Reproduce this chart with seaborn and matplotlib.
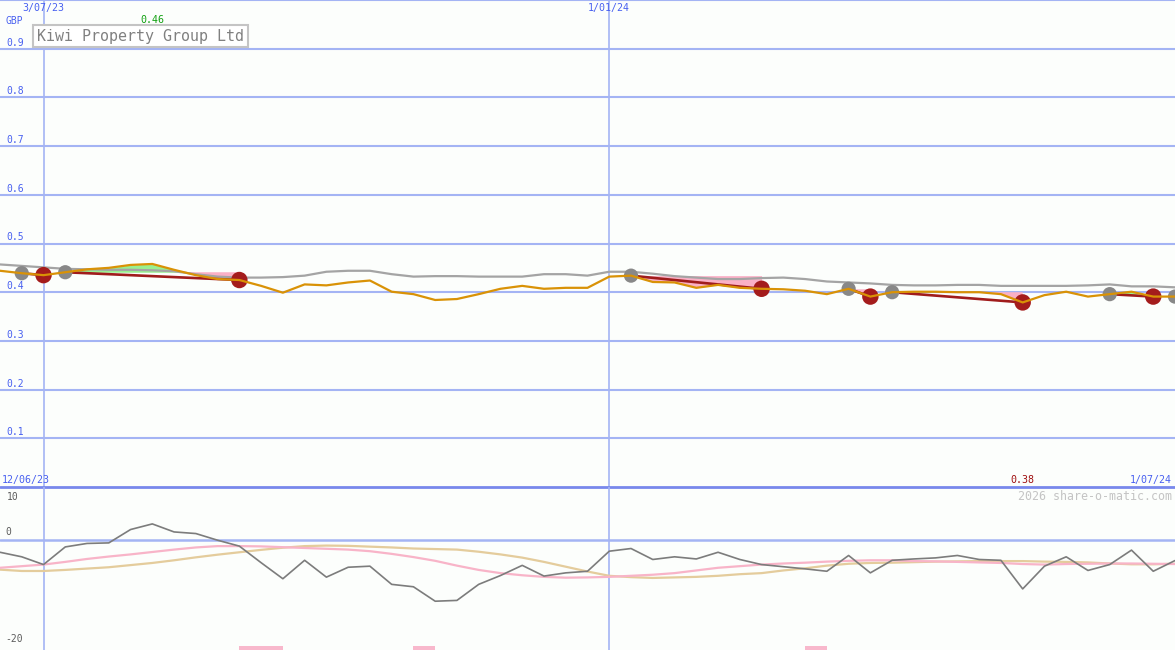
import numpy as np
import pandas as pd
import matplotlib
matplotlib.use("Agg")
import matplotlib.pyplot as plt
import matplotlib.transforms as mtrans
import seaborn as sns

# weekly closes (GBP)
weeks = pd.date_range("2023-06-19", periods=55, freq="7D")
close = [0.444, 0.439, 0.435, 0.441, 0.447, 0.450, 0.456, 0.458, 0.446, 0.435,
         0.427, 0.425, 0.413, 0.399, 0.416, 0.414, 0.420, 0.424, 0.401, 0.396,
         0.384, 0.386, 0.396, 0.407, 0.413, 0.407, 0.409, 0.409, 0.432, 0.434,
         0.421, 0.420, 0.409, 0.415, 0.409, 0.407, 0.406, 0.403, 0.396, 0.407,
         0.391, 0.400, 0.401, 0.401, 0.400, 0.400, 0.396, 0.379, 0.394, 0.401,
         0.391, 0.396, 0.401, 0.391, 0.391]
avg = [0.457, 0.454, 0.451, 0.448, 0.447, 0.446, 0.446, 0.445, 0.443, 0.437,
       0.432, 0.430, 0.430, 0.431, 0.434, 0.442, 0.444, 0.444, 0.437, 0.432,
       0.433, 0.433, 0.432, 0.432, 0.432, 0.437, 0.437, 0.434, 0.442, 0.442,
       0.438, 0.433, 0.430, 0.427, 0.427, 0.429, 0.430, 0.427, 0.422, 0.420,
       0.418, 0.415, 0.414, 0.414, 0.415, 0.415, 0.413, 0.413, 0.413, 0.413,
       0.414, 0.416, 0.412, 0.412, 0.410]
swing_hi = [1, 3, 29, 39, 41, 51, 54]
swing_lo = [2, 11, 35, 40, 47, 53]
trends = [(1, 2), (3, 11), (29, 35), (39, 40), (41, 47), (51, 53)]

# lower indicator panel
momentum = [-2.2, -3.05, -4.5, -1.2, -0.55, -0.45, 2.05, 3.1, 1.6, 1.3,
            0.05, -1.05, -4.15, -7.15, -3.7, -6.85, -5.0, -4.8, -8.2, -8.65,
            -11.35, -11.2, -8.2, -6.55, -4.65, -6.65, -6.05, -5.75, -2.0, -1.5,
            -3.55, -3.05, -3.45, -2.2, -3.55, -4.5, -4.9, -5.3, -5.75, -2.8,
            -6.05, -3.7, -3.45, -3.25, -2.8, -3.55, -3.7, -9.05, -4.8, -3.05,
            -5.6, -4.5, -1.8, -5.75, -3.75]
sig_fast = [-5.1, -4.8, -4.5, -4.0, -3.45, -3.0, -2.6, -2.15, -1.7, -1.3,
            -1.05, -1.05, -1.1, -1.25, -1.4, -1.55, -1.7, -2.0, -2.5, -3.1,
            -3.8, -4.7, -5.5, -6.1, -6.5, -6.8, -6.95, -6.9, -6.8, -6.6,
            -6.4, -6.1, -5.6, -5.1, -4.8, -4.5, -4.3, -4.15, -3.95, -3.8,
            -3.7, -3.7, -3.85, -3.9, -4.0, -4.1, -4.2, -4.4, -4.5, -4.4,
            -4.35, -4.3, -4.3, -4.35, -4.4]
sig_slow = [-5.45, -5.7, -5.7, -5.5, -5.25, -5.0, -4.6, -4.2, -3.7, -3.15,
            -2.65, -2.2, -1.75, -1.35, -1.05, -0.95, -1.0, -1.15, -1.3, -1.5,
            -1.6, -1.7, -2.1, -2.6, -3.2, -4.0, -4.9, -5.8, -6.6, -6.85,
            -7.0, -6.9, -6.8, -6.6, -6.3, -6.1, -5.6, -5.2, -4.7, -4.35,
            -4.2, -4.15, -4.05, -3.95, -3.9, -3.85, -3.85, -3.85, -3.95, -4.0,
            -4.1, -4.3, -4.45, -4.45, -4.35]
alert_spans = [(11, 13), (19, 20), (37, 38)]

price_ticks = [0.1, 0.2, 0.3, 0.4, 0.5, 0.6, 0.7, 0.8, 0.9]
ind_labels = [(10, "10"), (0, "0"), (-20, "-20")]

BG = "#fcfefc"
GRID = "#a4b4f4"
SEP = "#7888ec"
BLUE = "#4860f0"

sns.set_theme(style="white")
plt.rcParams["font.family"] = ["DejaVu Sans Mono", "DejaVu Sans"]

fig = plt.figure(figsize=(11.75, 6.5), dpi=100, facecolor=BG)
ax = fig.add_axes([0, 1 - 487 / 650, 1, 487 / 650], facecolor=BG)
ax2 = fig.add_axes([0, 0, 1, 163 / 650], facecolor=BG)

x0, x1 = weeks[0], weeks[-1]
for a in (ax, ax2):
    a.set_xlim(x0, x1)
    a.set_axis_off()
    for d in ["2023-07-03", "2024-01-01"]:
        a.axvline(pd.Timestamp(d), color=GRID, lw=1.2, zorder=1)

ax.set_ylim(0, 1.0)
ax2.set_ylim(-20.47, 10)

for v in price_ticks + [1.0]:
    ax.axhline(v, color=GRID, lw=1.5, zorder=1)
ax.axhline(0, color=SEP, lw=2, zorder=2, clip_on=False)
ax2.axhline(0, color=GRID, lw=1.8, zorder=1)

cl = np.array(close)
# fills between price and the swing level
for hi, lo in trends:
    xs = weeks[hi:lo + 1]
    ys = cl[hi:lo + 1]
    lvl = cl[hi]
    ax.fill_between(xs, ys, lvl, where=ys >= lvl, interpolate=True,
                    color="#98f090", lw=0, zorder=2)
    ax.fill_between(xs, ys, lvl, where=ys <= lvl, interpolate=True,
                    color="#fab0c6", lw=0, zorder=2)

sns.lineplot(x=weeks, y=avg, ax=ax, color="#a4a4a4", lw=1.6, zorder=3)
for hi, lo in trends:
    sns.lineplot(x=[weeks[hi], weeks[lo]], y=[cl[hi], cl[lo]], ax=ax,
                 color="#a01c1c", lw=1.9, zorder=4)
sns.scatterplot(x=weeks[swing_hi], y=cl[swing_hi], ax=ax, s=105,
                color="#888888", edgecolor="none", zorder=5)
sns.scatterplot(x=weeks[swing_lo], y=cl[swing_lo], ax=ax, s=140,
                color="#a41c1c", edgecolor="none", zorder=5)
sns.lineplot(x=weeks, y=close, ax=ax, color="#d99206", lw=1.6, zorder=6)

# lower panel
for a0, b0 in alert_spans:
    ax2.fill_between(weeks[a0:b0 + 1], -20.47, -19.7, color="#f8b8cc",
                     lw=0, zorder=2)
sns.lineplot(x=weeks, y=sig_slow, ax=ax2, color="#e4cc9c", lw=1.6, zorder=3)
sns.lineplot(x=weeks, y=sig_fast, ax=ax2, color="#f8b4c8", lw=1.6, zorder=3)
sns.lineplot(x=weeks, y=momentum, ax=ax2, color="#7c7c7c", lw=1.2, zorder=4)

# labels
bl = mtrans.blended_transform_factory(ax.transAxes, ax.transData)
for v in price_ticks:
    ax.annotate(f"{v:.1f}", xy=(0, v), xycoords=bl, xytext=(6, 1),
                textcoords="offset pixels", fontsize=7, color=BLUE,
                va="bottom", ha="left")
bl2 = mtrans.blended_transform_factory(ax2.transAxes, ax2.transData)
for v, t in ind_labels:
    if v == 10:
        ax2.annotate(t, xy=(0, v), xycoords=bl2, xytext=(7, -5),
                     textcoords="offset pixels", fontsize=7,
                     color="#5c5c5c", va="top", ha="left")
    else:
        ax2.annotate(t, xy=(0, v), xycoords=bl2, xytext=(5, 3),
                     textcoords="offset pixels", fontsize=7,
                     color="#5c5c5c", va="bottom", ha="left")

tx = mtrans.blended_transform_factory(ax.transData, ax.transAxes)
ax.text(pd.Timestamp("2023-07-03"), 1 - 8 / 487, "3/07/23", transform=tx,
        fontsize=7.2, color=BLUE, ha="center", va="center")
ax.text(pd.Timestamp("2024-01-01"), 1 - 8 / 487, "1/01/24", transform=tx,
        fontsize=7.2, color=BLUE, ha="center", va="center")
imax, imin = int(np.argmax(cl)), int(np.argmin(cl))
ax.text(weeks[imax], 1 - 20 / 487, f"{cl[imax]:.2f}", transform=tx,
        fontsize=7.2, color="#10a010", ha="center", va="center")
ax.text(weeks[imin], 1 - 480 / 487, f"{cl[imin]:.2f}", transform=tx,
        fontsize=7.2, color="#a01010", ha="center", va="center")

fig.text(6 / 1175, 1 - 21 / 650, "GBP", fontsize=7, color=BLUE,
         ha="left", va="center")
fig.text(2 / 1175, 1 - 480 / 650, "12/06/23", fontsize=7.2, color=BLUE,
         ha="left", va="center")
fig.text(1172 / 1175, 1 - 480 / 650, "1/07/24", fontsize=7.2, color=BLUE,
         ha="right", va="center")
fig.text(1172 / 1175, 1 - 496 / 650, "2026 share-o-matic.com", fontsize=8.4,
         color="#c4c4c4", ha="right", va="center")
fig.text(37 / 1175, 1 - 36 / 650, "Kiwi Property Group Ltd", fontsize=10.8,
         color="#808080", ha="left", va="center", zorder=10,
         bbox=dict(boxstyle="square,pad=0.25", fc="white", ec="#c4c4c4", lw=1.5))

fig.savefig("out.png", dpi=100, facecolor=BG)
